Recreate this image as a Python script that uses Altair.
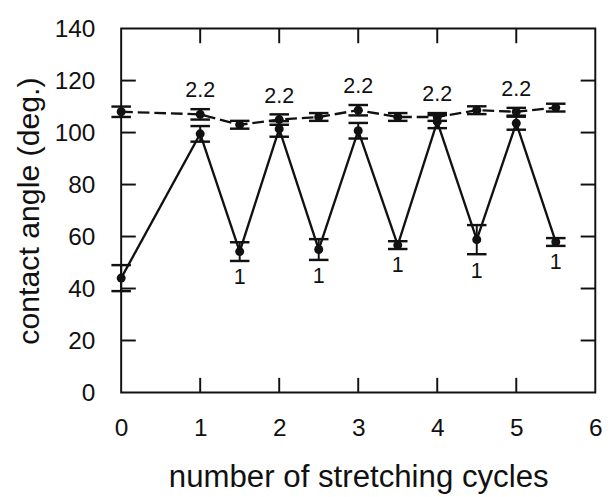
import altair as alt
import pandas as pd

# ---- data ----
x_vals = [0, 1, 1.5, 2, 2.5, 3, 3.5, 4, 4.5, 5, 5.5]
high_vals = [108, 107, 103, 105, 106, 108.6, 106, 106, 108.6, 108, 109.6]
high_err = [2, 2, 1.5, 2, 1.5, 2, 1.5, 1.5, 1.5, 1.5, 1.5]
low_vals = [44, 99.5, 54.2, 101.4, 55, 100.7, 56.7, 104.2, 58.8, 103.6, 57.9]
low_err = [5, 3, 3.6, 3, 4, 3, 1.5, 2.5, 5.6, 2.5, 1.5]

high_label_x = [1, 2, 3, 4, 5]
high_label_text = ["2.2", "2.2", "2.2", "2.2", "2.2"]
low_label_x = [1.5, 2.5, 3.5, 4.5, 5.5]
low_label_text = ["1", "1", "1", "1", "1"]

x_ticks = [0, 1, 2, 3, 4, 5, 6]
y_ticks = [0, 20, 40, 60, 80, 100, 120, 140]
x_inner_ticks = [1, 2, 3, 4, 5]
y_inner_ticks = [20, 40, 60, 80, 100, 120]

W, H = 486, 373
FONT = "Liberation Sans"
INK = "#111111"

high = pd.DataFrame({"x": x_vals, "y": high_vals, "err": high_err})
high["lo"] = high["y"] - high["err"]
high["hi"] = high["y"] + high["err"]
low = pd.DataFrame({"x": x_vals, "y": low_vals, "err": low_err})
low["lo"] = low["y"] - low["err"]
low["hi"] = low["y"] + low["err"]

hl = high[high["x"].isin(high_label_x)].copy()
hl["t"] = high_label_text
ll = low[low["x"].isin(low_label_x)].copy()
ll["t"] = low_label_text

xs = alt.Scale(domain=[0, 6], nice=False, zero=False)
ys = alt.Scale(domain=[0, 140], nice=False)

X = alt.X("x:Q", scale=xs, axis=alt.Axis(values=x_ticks, format="d", ticks=False, domain=False, grid=False,
          labelFontSize=25, labelPadding=24, labelFont=FONT, labelColor=INK,
          title="number of stretching cycles", titleFontSize=32, titleFont=FONT,
          titleFontWeight="normal", titlePadding=22, titleColor=INK, labelFlush=False))
Y = alt.Y("y:Q", scale=ys, axis=alt.Axis(values=y_ticks, format="d", ticks=False, domain=False, grid=False,
          labelFontSize=25, labelPadding=27, labelFont=FONT, labelColor=INK,
          title="contact angle (deg.)", titleFontSize=31, titleFont=FONT,
          titleFontWeight="normal", titlePadding=9, titleColor=INK))


def series(df, dash):
    base = alt.Chart(df)
    line = base.mark_line(color=INK, strokeWidth=2.4, strokeDash=dash).encode(x=X, y=Y)
    bar = base.mark_rule(color=INK, strokeWidth=2).encode(x="x:Q", y="lo:Q", y2="hi:Q")
    cap_lo = base.mark_tick(color=INK, opacity=1, orient="horizontal", size=20, thickness=2.5).encode(
        x="x:Q", y="lo:Q")
    cap_hi = base.mark_tick(color=INK, opacity=1, orient="horizontal", size=20, thickness=2.5).encode(
        x="x:Q", y="hi:Q")
    pts = base.mark_circle(color=INK, size=85, opacity=1).encode(x="x:Q", y="y:Q")
    return [line, bar, cap_lo, cap_hi, pts]


high_layers = series(high, [12, 5])
low_layers = series(low, [1, 0])

t_high = alt.Chart(hl).mark_text(font=FONT, fontSize=22, color=INK, dy=-7, baseline="bottom").encode(
    x="x:Q", y="hi:Q", text="t:N")
t_low = alt.Chart(ll).mark_text(font=FONT, fontSize=22, color=INK, dy=7, baseline="top").encode(
    x="x:Q", y="lo:Q", text="t:N")

xt = pd.DataFrame({"v": x_inner_ticks})
yt = pd.DataFrame({"v": y_inner_ticks})
tk = dict(color=INK, strokeWidth=2)
tick_b = alt.Chart(xt).mark_rule(**tk).encode(x="v:Q", y=alt.value(H), y2=alt.value(H - 15))
tick_t = alt.Chart(xt).mark_rule(**tk).encode(x="v:Q", y=alt.value(0), y2=alt.value(15))
tick_l = alt.Chart(yt).mark_rule(**tk).encode(y="v:Q", x=alt.value(0), x2=alt.value(15))
tick_r = alt.Chart(yt).mark_rule(**tk).encode(y="v:Q", x=alt.value(W), x2=alt.value(W - 15))

chart = alt.layer(
    *high_layers, *low_layers, t_high, t_low, tick_b, tick_t, tick_l, tick_r
).properties(
    width=W, height=H,
    autosize=alt.AutoSizeParams(type="none"),
    padding={"left": 116, "top": 15, "right": 12, "bottom": 100},
).configure_view(stroke=INK, strokeWidth=2)

chart.save("out.html", embed_options={"renderer": "svg", "actions": False})
